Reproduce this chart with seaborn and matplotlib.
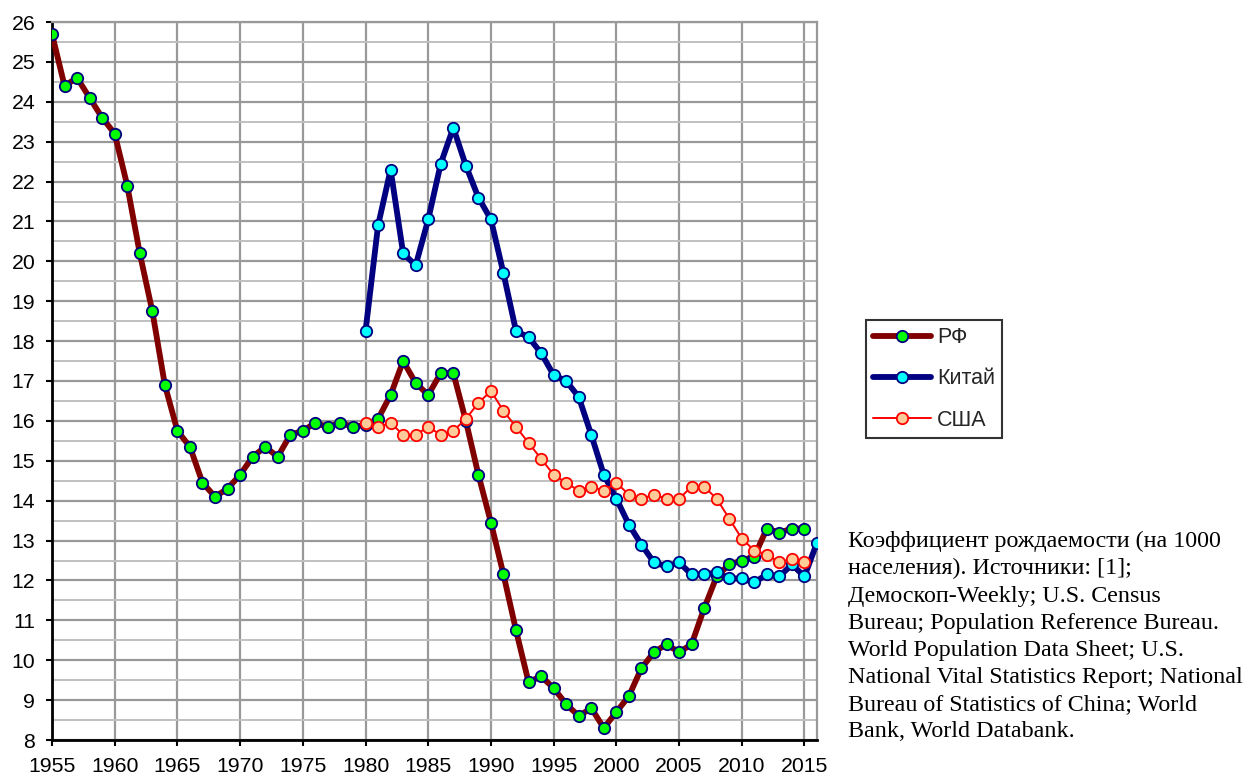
import numpy as np
import pandas as pd
import seaborn as sns
import matplotlib
matplotlib.use("Agg")
import matplotlib.pyplot as plt

# ---- data ----
rf_years = list(range(1955, 2016))
rf_values = [25.7, 24.4, 24.6, 24.1, 23.6, 23.2, 21.9, 20.2, 18.75, 16.9,
             15.75, 15.35, 14.45, 14.1, 14.3, 14.65, 15.1, 15.35, 15.1, 15.65,
             15.75, 15.95, 15.85, 15.95, 15.85, 15.9, 16.05, 16.65, 17.5, 16.95,
             16.65, 17.2, 17.2, 16.0, 14.65, 13.45, 12.15, 10.75, 9.45, 9.6,
             9.3, 8.9, 8.6, 8.8, 8.3, 8.7, 9.1, 9.8, 10.2, 10.4,
             10.2, 10.4, 11.3, 12.1, 12.4, 12.5, 12.6, 13.3, 13.2, 13.3,
             13.3]
cn_years = list(range(1980, 2017))
cn_values = [18.25, 20.9, 22.3, 20.2, 19.9, 21.05, 22.45, 23.35, 22.4, 21.6,
             21.05, 19.7, 18.25, 18.1, 17.7, 17.15, 17.0, 16.6, 15.65, 14.65,
             14.05, 13.4, 12.9, 12.45, 12.35, 12.45, 12.15, 12.15, 12.2, 12.05,
             12.05, 11.95, 12.15, 12.1, 12.4, 12.1, 12.95]
us_years = list(range(1980, 2016))
us_values = [15.95, 15.85, 15.95, 15.65, 15.65, 15.85, 15.65, 15.75, 16.05, 16.45,
             16.75, 16.25, 15.85, 15.45, 15.05, 14.65, 14.45, 14.25, 14.35, 14.25,
             14.45, 14.15, 14.05, 14.15, 14.05, 14.05, 14.35, 14.35, 14.05, 13.55,
             13.05, 12.75, 12.65, 12.45, 12.55, 12.45]
series_names = ["РФ", "Китай", "США"]
x_ticks = list(range(1955, 2016, 5))
y_ticks = list(range(8, 27))
note = ("Коэффициент рождаемости (на 1000\n"
        "населения). Источники: [1];\n"
        "Демоскоп-Weekly; U.S. Census\n"
        "Bureau; Population Reference Bureau.\n"
        "World Population Data Sheet; U.S.\n"
        "National Vital Statistics Report; National\n"
        "Bureau of Statistics of China; World\n"
        "Bank, World Databank.")

df_rf = pd.DataFrame({"year": rf_years, "value": rf_values})
df_cn = pd.DataFrame({"year": cn_years, "value": cn_values})
df_us = pd.DataFrame({"year": us_years, "value": us_values})

sns.set_theme(style="white")
plt.rcParams["font.family"] = ["Liberation Sans", "DejaVu Sans"]

fig = plt.figure(figsize=(12.46, 7.74), dpi=100)
ax = fig.add_axes([52 / 1246, 1 - 740 / 774, (817 - 52) / 1246, (740 - 22) / 774])

sns.lineplot(data=df_rf, x="year", y="value", ax=ax, color="#800000", linewidth=4.2,
             marker="o", markersize=8.2, markerfacecolor="#00FF00",
             markeredgecolor="#000080", markeredgewidth=1.3, label=series_names[0],
             zorder=3)
sns.lineplot(data=df_cn, x="year", y="value", ax=ax, color="#000080", linewidth=4.2,
             marker="o", markersize=8.2, markerfacecolor="#00FFFF",
             markeredgecolor="#000080", markeredgewidth=1.3, label=series_names[1],
             zorder=4)
sns.lineplot(data=df_us, x="year", y="value", ax=ax, color="#FF0000", linewidth=1.4,
             marker="o", markersize=8.2, markerfacecolor="#FFCC99",
             markeredgecolor="#FF0000", markeredgewidth=1.3, label=series_names[2],
             zorder=5)

ax.set_xlim(1955, 2016)
ax.set_ylim(8, 26)
ax.set_xticks(x_ticks)
ax.set_yticks(y_ticks)
ax.set_yticks(np.arange(8, 26.01, 0.5), minor=True)
ax.set_xlabel("")
ax.set_ylabel("")
ax.tick_params(axis="both", which="major", direction="out", length=4, width=1.5,
               color="black", labelsize=15.3, labelcolor="black", pad=8,
               bottom=True, left=True)
ax.tick_params(axis="y", which="minor", length=0)
ax.grid(True, which="major", axis="both", color="#999999", linewidth=1.6, zorder=0)
ax.grid(True, which="minor", axis="y", color="#C0C0C0", linewidth=1.4, zorder=0)
ax.set_axisbelow(True)
for s in ["left", "bottom"]:
    ax.spines[s].set_color("black")
    ax.spines[s].set_linewidth(2)
for s in ["top", "right"]:
    ax.spines[s].set_color("#999999")
    ax.spines[s].set_linewidth(1.6)

leg = ax.legend(loc="center", bbox_to_anchor=(934 / 1246, 1 - 379 / 774),
                bbox_transform=fig.transFigure, fancybox=False, frameon=True,
                edgecolor="black", fontsize=15.5, handlelength=2.7, labelspacing=0.95,
                borderpad=0.35, handletextpad=0.25)
leg.get_frame().set_linewidth(1.5)

fig.text(848 / 1246, 1 - 531 / 774, note, ha="left", va="top",
         family=["Liberation Serif", "DejaVu Serif"], fontsize=17.3,
         linespacing=1.38, color="black")

fig.savefig("out.png", dpi=100)
